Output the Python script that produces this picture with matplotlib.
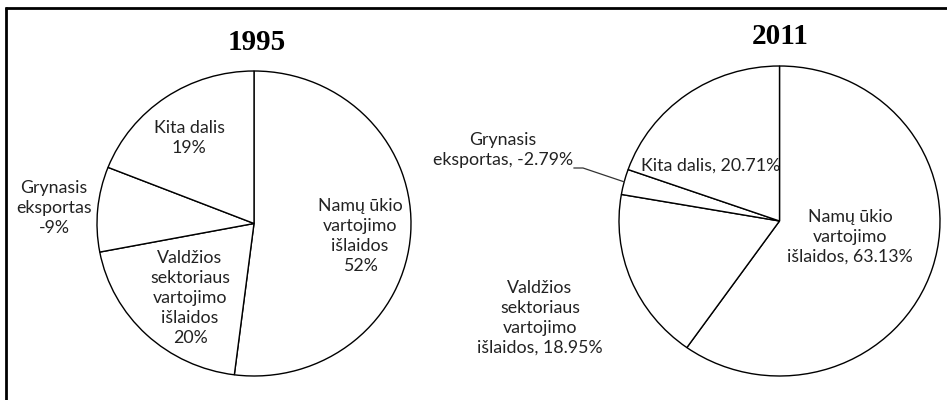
import numpy as np
import matplotlib
matplotlib.use('Agg')
import matplotlib.pyplot as plt

plt.rcParams['font.family'] = ['Lato', 'DejaVu Sans']

# Duomenys
years = ['1995', '2011']
shares_1995 = [52, 20, 9, 19]            # Namų ūkio, Valdžios, Grynasis eksportas (|-9|), Kita
shares_2011 = [63.13, 18.95, 2.79, 20.71]
labels_1995 = ['Namų ūkio\nvartojimo\nišlaidos\n52%',
               'Valdžios\nsektoriaus\nvartojimo\nišlaidos\n20%',
               'Grynasis\neksportas\n-9%',
               'Kita dalis\n19%']
labels_2011 = ['Namų ūkio\nvartojimo\nišlaidos, 63.13%',
               'Valdžios\nsektoriaus\nvartojimo\nišlaidos, 18.95%',
               'Grynasis\neksportas, -2.79%',
               'Kita dalis, 20.71%']

W, H = 947, 400
fig = plt.figure(figsize=(W / 100, H / 100), dpi=100)
fig.patch.set_facecolor('white')


def px_axes(x0, y0, x1, y1):
    return fig.add_axes([x0 / W, (H - y1) / H, (x1 - x0) / W, (y1 - y0) / H])


def draw_pie(ax, values):
    wedges, _ = ax.pie(values, startangle=90, counterclock=False,
                       colors=['white'] * len(values),
                       wedgeprops=dict(edgecolor='black', linewidth=1.0))
    ax.set_aspect('auto')
    ax.set_xlim(-1, 1)
    ax.set_ylim(-1, 1)
    ax.axis('off')
    return wedges


ax1 = px_axes(97, 71, 411, 376)
draw_pie(ax1, shares_1995)
ax2 = px_axes(619, 66, 940, 376)
wedges2 = draw_pie(ax2, shares_2011)

# viršutinės ašys pikseliais (tekstams ir rėmeliui), piešiamos paskutinės
bg = fig.add_axes([0, 0, 1, 1])
bg.set_xlim(0, W)
bg.set_ylim(H, 0)
bg.axis('off')
bg.patch.set_alpha(0)

# antraštės
title_kw = dict(family='Liberation Serif', fontweight='bold', fontsize=21,
                ha='center', va='baseline')
bg.text(257, 50, years[0], **title_kw)
bg.text(780, 44, years[1], **title_kw)

lab_kw = dict(fontsize=12.8, ha='center', va='center', multialignment='center',
              linespacing=1.3, color='#222222')
pos_1995 = [(360, 236), (190, 298), (54, 208), (189, 138)]
pos_2011 = [(850, 237), (540, 318), (503, 150), (711, 166)]
for txt, (x, y) in zip(labels_1995, pos_1995):
    bg.text(x, y, txt, **lab_kw)
for txt, (x, y) in zip(labels_2011, pos_2011):
    bg.text(x, y, txt, **lab_kw)

# linija nuo grynojo eksporto (2011) pjūvio
w = wedges2[2]
mid = np.deg2rad((w.theta1 + w.theta2) / 2)
edge_px = ax2.transData.transform((np.cos(mid), np.sin(mid)))
ex, ey = bg.transData.inverted().transform(edge_px)
bg.plot([574, 583, ex], [168, 168, ey], color='#333333', lw=0.9)

# rėmelis (viršus ir kairė)
bg.plot([5, W], [8, 8], color='black', lw=2.0, solid_capstyle='butt')
bg.plot([5.5, 5.5], [7, H], color='black', lw=2.0, solid_capstyle='butt')

fig.savefig('out.png', dpi=100, facecolor='white')
